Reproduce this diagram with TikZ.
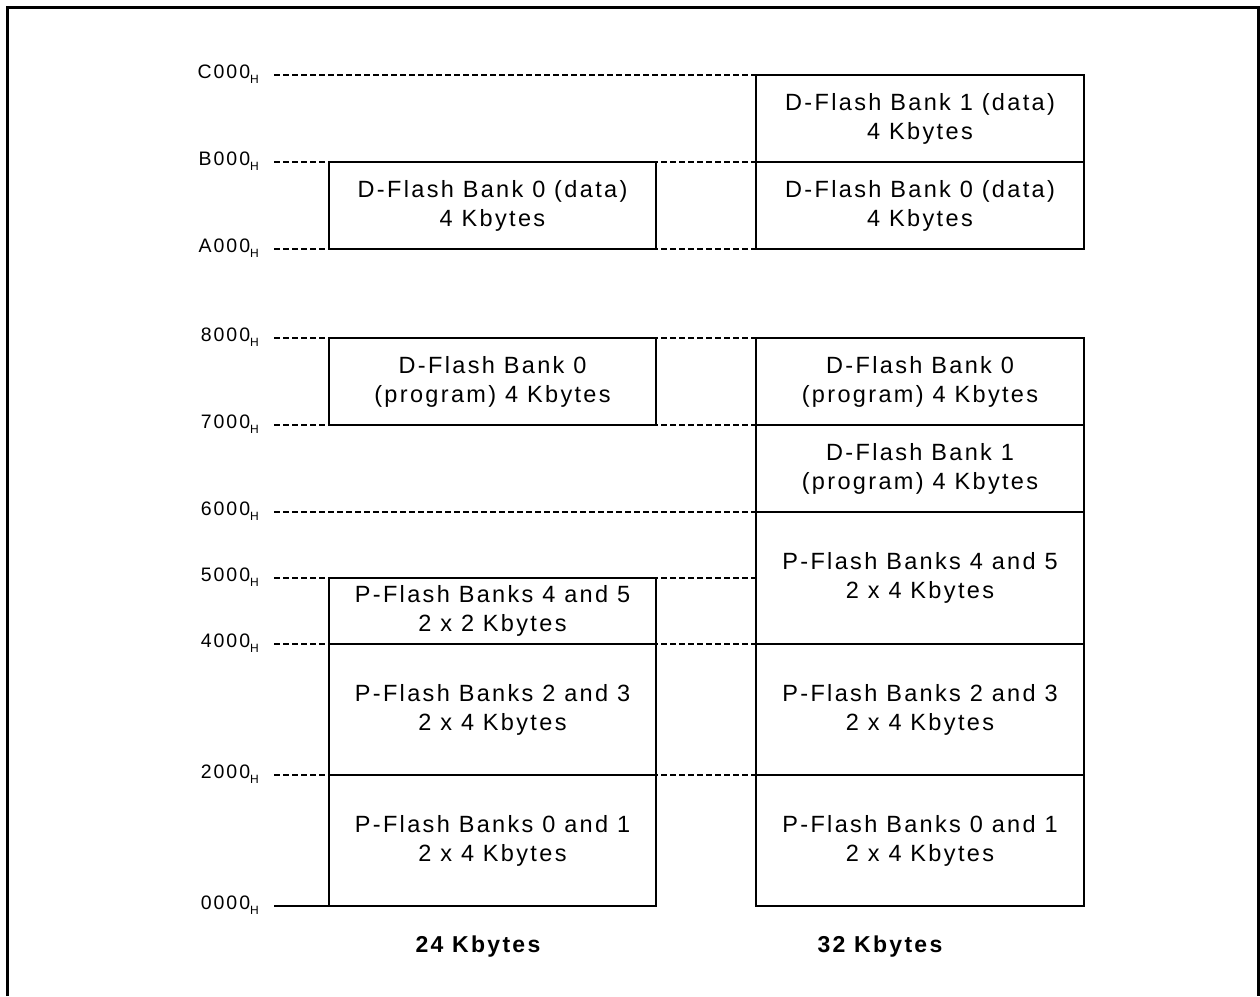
\documentclass[tikz,border=0pt]{standalone}
\usepackage{fontspec}
\setmainfont{Liberation Sans}[LetterSpace=10]

\begin{document}
\begin{tikzpicture}[x=1pt,y=-1pt]
    \tikzstyle{bank}=[
        draw,
        line width=1.8pt,
        fill=white,
        inner sep=0pt,
        minimum width=327.5pt,
        align=center,
        font=\fontsize{23.5}{29}\selectfont]
    \tikzstyle{addr}=[anchor=base east,inner sep=0pt,font=\fontsize{19.5}{19.5}\selectfont]
    \tikzstyle{guide}=[line width=1.2pt,dash pattern=on 5.5pt off 3.5pt]
    \newcommand{\hx}[1]{#1\raisebox{-5pt}{\fontsize{12}{12}\selectfont H}}

    \useasboundingbox (0,0) rectangle (1260,996);
    \draw[line width=3pt] (7,996) -- (7,7) -- (1258,7) -- (1258,996);

    \coordinate (lcol) at (329,0);
    \coordinate (rcol) at (756,0);
    % address levels
    \foreach \y/\t in {75/C000,162/B000,249/A000,338/8000,425/7000,512/6000,578/5000,644/4000,775/2000,906/0000}{
        \node[addr] (a\t) at (259,\y+3.5) {\hx{\t}};
        \coordinate (g\t) at (274,\y);
    }
    \foreach \t in {C000,B000,A000,8000,7000,6000,5000,4000,2000}
        \draw[guide] (g\t) -- (g\t -| rcol);
    \draw[line width=1.2pt] (g0000) -- (g0000 -| lcol);

    % 24 Kbytes
    \node[bank,minimum height=87pt] (l1) at (492.5,205.5) {D-Flash Bank 0 (data)\\4 Kbytes};
    \node[bank,minimum height=87pt] (l2) at (492.5,381.5) {D-Flash Bank 0\\(program) 4 Kbytes};
    \node[bank,minimum height=66pt] (l3) at (492.5,611) {P-Flash Banks 4 and 5\\2 x 2 Kbytes};
    \node[bank,minimum height=131pt] (l4) at (492.5,709.5) {P-Flash Banks 2 and 3\\2 x 4 Kbytes};
    \node[bank,minimum height=131pt] (l5) at (492.5,840.5) {P-Flash Banks 0 and 1\\2 x 4 Kbytes};
    % 32 Kbytes
    \node[bank,minimum height=87pt] (r1) at (920,118.5) {D-Flash Bank 1 (data)\\4 Kbytes};
    \node[bank,minimum height=87pt] (r2) at (920,205.5) {D-Flash Bank 0 (data)\\4 Kbytes};
    \node[bank,minimum height=87pt] (r3) at (920,381.5) {D-Flash Bank 0\\(program) 4 Kbytes};
    \node[bank,minimum height=87pt] (r4) at (920,468.5) {D-Flash Bank 1\\(program) 4 Kbytes};
    \node[bank,minimum height=132pt] (r5) at (920,578) {P-Flash Banks 4 and 5\\2 x 4 Kbytes};
    \node[bank,minimum height=131pt] (r6) at (920,709.5) {P-Flash Banks 2 and 3\\2 x 4 Kbytes};
    \node[bank,minimum height=131pt] (r7) at (920,840.5) {P-Flash Banks 0 and 1\\2 x 4 Kbytes};

    \node[anchor=base,font=\fontsize{23}{23}\selectfont\bfseries] (s24) at (478,952) {24 Kbytes};
    \node[anchor=base,font=\fontsize{23}{23}\selectfont\bfseries] (s32) at (880,952) {32 Kbytes};
\end{tikzpicture}
\end{document}
